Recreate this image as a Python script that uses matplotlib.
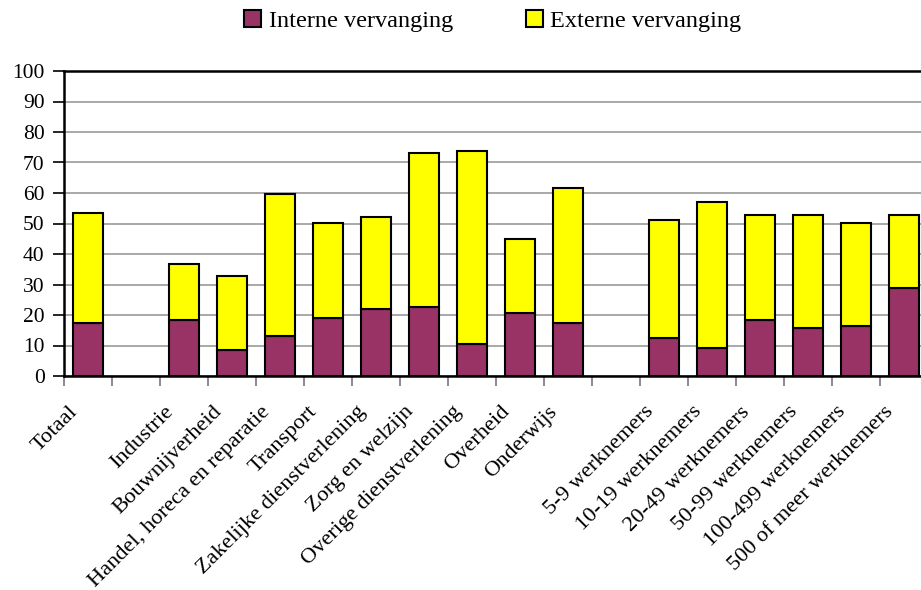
import matplotlib
matplotlib.use("Agg")
import matplotlib.pyplot as plt
import matplotlib.transforms as mtransforms

plt.rcParams["font.family"] = ["Liberation Serif", "DejaVu Serif"]

# sectoren en bedrijfsgrootte; lege strings zijn tussenruimtes
categorieen = ["Totaal", "",
               "Industrie", "Bouwnijverheid", "Handel, horeca en reparatie",
               "Transport", "Zakelijke dienstverlening", "Zorg en welzijn",
               "Overige dienstverlening", "Overheid", "Onderwijs", "",
               "5-9 werknemers", "10-19 werknemers", "20-49 werknemers",
               "50-99 werknemers", "100-499 werknemers", "500 of meer werknemers"]

intern = [17.5, None,
          18.2, 8.6, 13.1, 18.9, 22.0, 22.6, 10.4, 20.8, 17.4, None,
          12.5, 9.3, 18.2, 15.7, 16.4, 29.0]

totaal = [53.3, None,
          36.7, 32.8, 59.7, 50.1, 52.1, 73.1, 73.7, 45.0, 61.7, None,
          51.2, 57.2, 52.7, 52.7, 50.2, 52.7]

extern = [None if t is None else t - i for t, i in zip(totaal, intern)]

PAARS = "#993366"
GEEL = "#FFFF00"

fig = plt.figure(figsize=(9.21, 5.90), dpi=100)
ax = fig.add_axes([64 / 921, 214 / 590, 864 / 921, 305 / 590])

x = [k for k, v in enumerate(intern) if v is not None]
vi = [intern[k] for k in x]
ve = [extern[k] for k in x]

b1 = ax.bar(x, vi, width=0.62, color=PAARS, edgecolor="black", linewidth=1.5,
            label="Interne vervanging", zorder=3)
b2 = ax.bar(x, ve, bottom=vi, width=0.62, color=GEEL, edgecolor="black",
            linewidth=1.5, label="Externe vervanging", zorder=3)

ax.set_xlim(-0.5, len(categorieen) - 0.5)
ax.set_ylim(0, 100)
ax.set_yticks(range(0, 101, 10))
ax.tick_params(axis="y", labelsize=15.5, length=8, width=1.2, direction="out", pad=6)

# tickstreepjes tussen de categorieen, labels in het midden
ax.set_xticks([k - 0.5 for k in range(len(categorieen))], minor=False)
ax.set_xticklabels([])
ax.tick_params(axis="x", which="major", length=7, width=1.2, color="#777777")
ax.set_xticks(range(len(categorieen)), minor=True)
labels = ax.set_xticklabels(categorieen, minor=True, rotation=45, ha="right",
                            va="top", rotation_mode="anchor", fontsize=16.2)
ax.tick_params(axis="x", which="minor", length=0, pad=19)
verschuiving = mtransforms.ScaledTranslation(-20 / 100, 0, fig.dpi_scale_trans)
for lab in labels:
    lab.set_transform(lab.get_transform() + verschuiving)

ax.yaxis.grid(True, color="#999999", linewidth=1.2, zorder=0)
ax.set_axisbelow(True)
for kant in ["left", "bottom", "top"]:
    ax.spines[kant].set_linewidth(1.8)
    ax.spines[kant].set_color("black")
ax.spines["right"].set_visible(False)

fig.legend(handles=[b1, b2], loc="upper center", bbox_to_anchor=(0.535, 1.02),
           ncol=2, frameon=False, fontsize=17.5, handlelength=0.7,
           handleheight=0.7, handletextpad=0.3, columnspacing=3.0)

fig.savefig("out.png", dpi=100)
